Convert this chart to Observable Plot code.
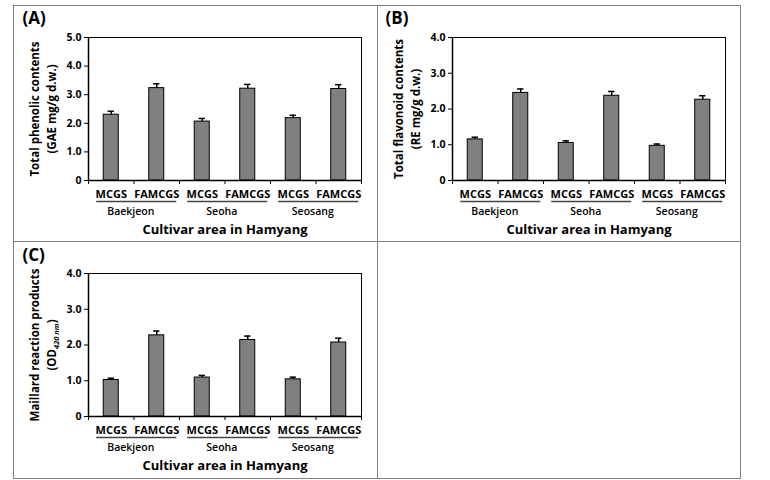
<!DOCTYPE html>
<html>
<head>
<meta charset="utf-8">
<script src="https://cdn.jsdelivr.net/npm/d3@7"></script>
<script src="https://cdn.jsdelivr.net/npm/@observablehq/plot@0.6"></script>
<style>
  html, body { margin: 0; padding: 0; background: #fff; }
  #wrap { position: relative; width: 770px; height: 480px; font-family: "Open Sans", sans-serif; }
  .line { position: absolute; background: #808080; }
  .cell { position: absolute; }
</style>
</head>
<body>
<div id="wrap">
  <div class="line" style="left:13px;top:5px;width:728px;height:1px"></div>
  <div class="line" style="left:13px;top:241px;width:728px;height:1px"></div>
  <div class="line" style="left:13px;top:478px;width:728px;height:1px"></div>
  <div class="line" style="left:13px;top:5px;width:1px;height:474px"></div>
  <div class="line" style="left:377px;top:5px;width:1px;height:474px"></div>
  <div class="line" style="left:740px;top:5px;width:1px;height:474px"></div>
  <div class="cell" id="pA" style="left:13px;top:5px"></div>
  <div class="cell" id="pB" style="left:377px;top:5px"></div>
  <div class="cell" id="pC" style="left:13px;top:241px"></div>
</div>
<script>
// ---- data ----
const cultivars = ["Baekjeon", "Seoha", "Seosang"];
const treatments = ["MCGS", "FAMCGS"];
const xTitle = "Cultivar area in Hamyang";

const phenolic    = [2.30, 3.23, 2.06, 3.21, 2.18, 3.20];
const phenolicErr = [0.12, 0.15, 0.11, 0.15, 0.10, 0.15];

const flavonoid    = [1.15, 2.45, 1.05, 2.37, 0.97, 2.26];
const flavonoidErr = [0.06, 0.11, 0.06, 0.12, 0.05, 0.11];

const maillard    = [1.02, 2.27, 1.09, 2.14, 1.04, 2.07];
const maillardErr = [0.05, 0.12, 0.06, 0.11, 0.06, 0.12];

const panels = [
  {id: "pA", tag: "(A)", values: phenolic, errs: phenolicErr, yMax: 5,
   yTitle: "Total phenolic contents\n(GAE mg/g d.w.)", w: 364, h: 236, tagDx: -66, tagDy: -19},
  {id: "pB", tag: "(B)", values: flavonoid, errs: flavonoidErr, yMax: 4,
   yTitle: "Total flavonoid contents\n(RE mg/g d.w.)", w: 363, h: 236, tagDx: -67, tagDy: -19},
  {id: "pC", tag: "(C)", values: maillard, errs: maillardErr, yMax: 4,
   yTitle: "Maillard reaction products\n(OD420 nm)", w: 364, h: 237, tagDx: -66, tagDy: -18, sub: true}
];

const FONT = "'Open Sans', 'DejaVu Sans', sans-serif";

for (const p of panels) {
  const rows = [];
  cultivars.forEach((c, ci) => treatments.forEach((t, ti) => {
    const i = ci * treatments.length + ti;
    rows.push({i, c, t, v: p.values[i], e: p.errs[i]});
  }));
  const n = rows.length;
  const svg = Plot.plot({
    width: p.w,
    height: p.h,
    marginLeft: 75,
    marginRight: p.w - 348,
    marginTop: 32,
    marginBottom: p.h - 175,
    style: {fontFamily: FONT, fontSize: "10px", color: "black", background: "transparent", overflow: "visible"},
    x: {domain: [0, n], axis: null},
    y: {domain: [0, p.yMax], axis: null},
    marks: [
      Plot.rectY(rows, {x1: d => d.i + 0.335, x2: d => d.i + 0.665, y1: () => 0, y2: "v",
        fill: "#808080", stroke: "black", strokeWidth: 1}),
      Plot.ruleX(rows, {x: d => d.i + 0.5, y1: "v", y2: d => d.v + d.e, stroke: "black", strokeWidth: 1.5}),
      Plot.ruleY(rows, {x1: d => d.i + 0.43, x2: d => d.i + 0.57, y: d => d.v + d.e, stroke: "black", strokeWidth: 1.5}),
      Plot.frame({stroke: "black", strokeWidth: 1}),
      Plot.ruleX([0], {stroke: "black", strokeWidth: 1.5}),
      Plot.ruleY([0], {stroke: "black", strokeWidth: 1.5}),
      Plot.axisY({ticks: d3.range(0, p.yMax + 1), tickFormat: d => d === 0 ? "0" : d.toFixed(1),
        tickSize: 4, tickPadding: 3, label: null, fontSize: 10.5, fontWeight: "bold", fontFamily: FONT}),
      Plot.axisX({ticks: d3.range(0, n + 1), tickFormat: () => "", tickSize: 4, label: null}),
      Plot.text(rows, {x: d => d.i + 0.5, y: () => 0, text: "t", dy: 14,
        fontSize: 11, fontWeight: "bold", fontFamily: FONT}),
      Plot.ruleY(cultivars, {x1: (d, i) => 2 * i + 0.18, x2: (d, i) => 2 * i + 1.94, y: () => 0, dy: 21,
        stroke: "#444", strokeWidth: 1.3}),
      Plot.text(cultivars, {x: (d, i) => 2 * i + 0.93, y: () => 0, text: d => d, dy: 31.5,
        fontSize: 10.5, fontWeight: 600, fontFamily: FONT}),
      Plot.text([xTitle], {x: () => n / 2, y: () => 0, text: d => d, dy: 49,
        fontSize: 13, fontWeight: "bold", fontFamily: FONT}),
      Plot.text([p.yTitle], {frameAnchor: "left", rotate: -90, dx: -46.5, text: d => d,
        textAnchor: "middle", lineAnchor: "middle", lineHeight: 1.45,
        fontSize: 11.5, fontWeight: "bold", fontFamily: FONT, className: "ytitle"}),
      Plot.text([p.tag], {frameAnchor: "top-left", dx: p.tagDx, dy: p.tagDy, text: d => d,
        textAnchor: "start", lineAnchor: "middle", fontSize: 17, fontWeight: "bold", fontFamily: FONT})
    ]
  });
  if (p.sub) {
    d3.select(svg).selectAll(".ytitle tspan").each(function() {
      const s = this.textContent;
      const m = s.match(/^\(OD(.*)\)$/);
      if (m) {
        const t = d3.select(this);
        t.text("(OD");
        t.append("tspan").attr("font-size", "7.5px").attr("font-style", "italic").attr("dy", "3").text(m[1]);
        t.append("tspan").attr("dy", "-3").text(")");
      }
    });
  }
  document.getElementById(p.id).appendChild(svg);
}
</script>
</body>
</html>
